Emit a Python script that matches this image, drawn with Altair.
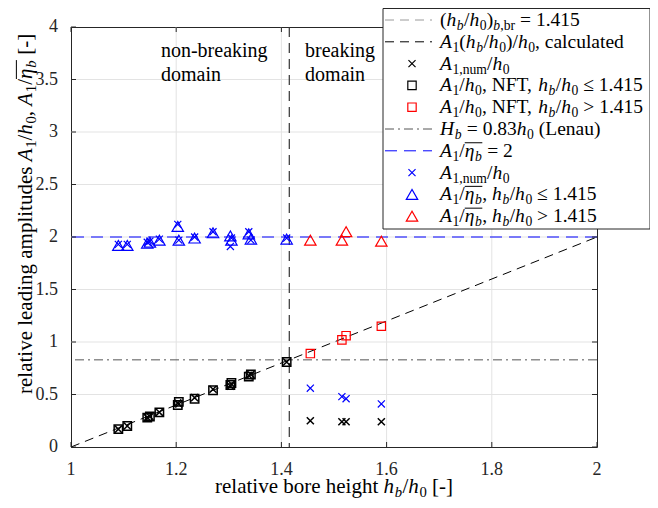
import altair as alt
import pandas as pd

# ---------------- data ----------------
hb_nonbreak = [1.090, 1.107, 1.145, 1.150, 1.168, 1.203, 1.205, 1.235, 1.270, 1.303, 1.305, 1.338, 1.342, 1.410]
a1h0_nft_nonbreak = [0.17, 0.20, 0.28, 0.29, 0.33, 0.40, 0.43, 0.46, 0.54, 0.59, 0.61, 0.67, 0.69, 0.81]
a1h0_num_nonbreak = [0.17, 0.20, 0.28, 0.29, 0.33, 0.42, 0.41, 0.47, 0.55, 0.58, 0.60, 0.68, 0.69, 0.81]
a1eta_nonbreak = [1.92, 1.92, 1.94, 1.95, 1.97, 2.10, 1.97, 1.99, 2.04, 2.01, 1.97, 2.03, 1.98, 1.98]
a1num_blue_nonbreak = [1.93, 1.93, 1.95, 1.96, 1.98, 2.12, 1.97, 2.00, 2.05, 1.91, 1.99, 2.05, 1.97, 1.99]

hb_break = [1.455, 1.515, 1.523, 1.590]
a1h0_nft_break = [0.89, 1.02, 1.06, 1.15]
a1h0_num_break = [0.25, 0.24, 0.24, 0.24]
a1num_blue_break = [0.56, 0.48, 0.46, 0.41]
a1eta_break = [1.97, 1.97, 2.05, 1.96]

hb_br_limit = [1.415]
lenau_level = [0.83]
eta_ratio_level = [2.0]
calc_x = [1.0, 2.0]
calc_y = [0.0, 2.0]

xticks = [1, 1.2, 1.4, 1.6, 1.8, 2]
yticks = [0, 0.5, 1, 1.5, 2, 2.5, 3, 3.5, 4]
xtick_labels = ["1", "1.2", "1.4", "1.6", "1.8", "2"]
ytick_labels = ["0", "0.5", "1", "1.5", "2", "2.5", "3", "3.5", "4"]

annot_x = [1.171, 1.171, 1.445, 1.445]
annot_y = [3.714, 3.486, 3.714, 3.486]
annot_text = ["non-breaking", "domain", "breaking", "domain"]

# ---------------- styling ----------------
FONT = "Liberation Serif"
INK = "#262626"
BLUE = "#0000ff"
RED = "#ff0000"
W, H = 526, 420
CROSS = "M-1,-1L1,1M-1,1L1,-1"

xs = alt.Scale(domain=[1, 2], nice=False, zero=False)
ys = alt.Scale(domain=[0, 4], nice=False, zero=False)
dummy = pd.DataFrame({"d": [0]})


def frame(**cols):
    return pd.DataFrame(cols)


def X(f="x"):
    return alt.X(f"{f}:Q", scale=xs, axis=None)


def Y(f="y"):
    return alt.Y(f"{f}:Q", scale=ys, axis=None)


# Times metrics (Liberation Serif is metric compatible)
ROMAN = {' ': 250, '(': 333, ')': 333, '/': 278, '=': 564, '.': 250, ',': 250, '-': 333,
         '[': 333, ']': 333, '>': 564, '≤': 549,
         'a': 444, 'b': 500, 'c': 444, 'd': 500, 'e': 444, 'f': 333, 'g': 500, 'h': 500,
         'i': 278, 'k': 500, 'l': 278, 'm': 778, 'n': 500, 'o': 500, 'p': 500, 'r': 333,
         's': 389, 't': 278, 'u': 500, 'v': 500,
         'A': 722, 'F': 556, 'H': 722, 'L': 611, 'N': 722, 'T': 611}
ITALIC = {'A': 611, 'H': 722, 'h': 500, 'b': 500, 'η': 500}


def width(txt, italic, size):
    tab = ITALIC if italic else ROMAN
    return sum(tab.get(c, 500) for c in txt) * size / 1000.0


def T(s): return (s, False, False, False)
def I(s): return (s, True, False, False)
def S(s): return (s, False, True, False)
def SI(s): return (s, True, True, False)
def OI(s): return (s, True, False, True)
def OSI(s): return (s, True, True, True)


def seg_adv(txt, ital, sub, size):
    fs = size * 0.7 if sub else size
    w = width(txt, ital, fs)
    if ital:
        w += 0.03 * fs  # italic correction
    return fs, w


def seg_total(segs, size):
    return sum(seg_adv(t, it, sb, size)[1] for t, it, sb, _ in segs)


def layout(segs, x0, y0, size, vertical=False):
    rows, bars = [], []
    pos = 0.0
    ol = None
    for txt, ital, sub, over in segs:
        fs, w = seg_adv(txt, ital, sub, size)
        shift = size * 0.2 if sub else 0.0
        lead = len(txt) - len(txt.lstrip(' '))
        off = width(' ' * lead, ital, fs)
        shown = txt.strip(' ')
        if vertical:
            rows.append(dict(x=x0 + shift, y=y0 - pos - off, text=shown, size=fs, italic=ital))
        else:
            rows.append(dict(x=x0 + pos + off, y=y0 + shift, text=shown, size=fs, italic=ital))
        if over:
            ol = [pos, pos + w] if ol is None else [ol[0], pos + w]
        elif ol is not None:
            bars.append(ol)
            ol = None
        pos += w
    if ol is not None:
        bars.append(ol)
    hbars, vbars = [], []
    for a, b in bars:
        if vertical:
            vbars.append(dict(x=x0 - 0.72 * size, y=y0 - a, y2=y0 - b))
        else:
            hbars.append(dict(x=x0 + a, x2=x0 + b, y=y0 - 0.72 * size))
    return rows, hbars, vbars


# ---------------- layers ----------------
layers = []

# grid
layers.append(alt.Chart(frame(v=xticks[1:-1])).mark_rule(color="#e3e3e3", strokeWidth=1).encode(x=X("v")))
layers.append(alt.Chart(frame(v=yticks[1:-1])).mark_rule(color="#e3e3e3", strokeWidth=1).encode(y=Y("v")))

# calculated line
layers.append(
    alt.Chart(frame(x=calc_x, y=calc_y)).mark_line(color="black", strokeWidth=1, strokeDash=[9, 6]).encode(
        x=X(), y=Y())
)

# reference lines
layers.append(alt.Chart(frame(y=eta_ratio_level)).mark_rule(color=BLUE, strokeWidth=1, strokeDash=[12, 7]).encode(y=Y()))
layers.append(alt.Chart(frame(y=lenau_level)).mark_rule(color="#555555", strokeWidth=1, strokeDash=[9, 4, 2, 4]).encode(y=Y()))
layers.append(alt.Chart(frame(x=hb_br_limit)).mark_rule(color="#333333", strokeWidth=1.2, strokeDash=[10, 6]).encode(x=X()))


def pts(xv, yv, shape, color, size, sw=1.2):
    return alt.Chart(frame(x=xv, y=yv)).mark_point(
        shape=shape, color=color, size=size, strokeWidth=sw, filled=False, opacity=1
    ).encode(x=X(), y=Y())


layers += [
    pts(hb_nonbreak, a1eta_nonbreak, "triangle-up", BLUE, 130),
    pts(hb_break, a1eta_break, "triangle-up", RED, 130),
    pts(hb_nonbreak, a1num_blue_nonbreak, CROSS, BLUE, 50),
    pts(hb_break, a1num_blue_break, CROSS, BLUE, 50),
    pts(hb_nonbreak, a1h0_nft_nonbreak, "square", "black", 70, 1.5),
    pts(hb_break, a1h0_nft_break, "square", RED, 70),
    pts(hb_nonbreak, a1h0_num_nonbreak, CROSS, "black", 50, 1.5),
    pts(hb_break, a1h0_num_break, CROSS, "black", 50, 1.5),
]

# inward ticks
layers += [
    alt.Chart(frame(v=xticks)).mark_rule(color=INK).encode(x=X("v"), y=alt.value(H), y2=alt.value(H - 5)),
    alt.Chart(frame(v=xticks)).mark_rule(color=INK).encode(x=X("v"), y=alt.value(0), y2=alt.value(5)),
    alt.Chart(frame(v=yticks)).mark_rule(color=INK).encode(y=Y("v"), x=alt.value(0), x2=alt.value(5)),
    alt.Chart(frame(v=yticks)).mark_rule(color=INK).encode(y=Y("v"), x=alt.value(W), x2=alt.value(W - 5)),
]

# tick labels
layers.append(
    alt.Chart(frame(v=xticks, t=xtick_labels)).mark_text(
        font=FONT, fontSize=18, align="center", baseline="alphabetic", color=INK
    ).encode(x=X("v"), y=alt.value(H + 28), text="t:N")
)
layers.append(
    alt.Chart(frame(v=yticks, t=ytick_labels)).mark_text(
        font=FONT, fontSize=18, align="right", baseline="middle", color=INK
    ).encode(y=Y("v"), x=alt.value(-13), text="t:N")
)

# domain annotations
layers.append(
    alt.Chart(frame(x=annot_x, y=annot_y, t=annot_text)).mark_text(
        font=FONT, fontSize=20, align="left", baseline="alphabetic", color="black"
    ).encode(x=X(), y=Y(), text="t:N")
)

# ---------------- legend ----------------
LX0, LX1, LY0, LY1 = 312, 579, -18.5, 202
layers.append(
    alt.Chart(dummy).mark_rect(fill="white", stroke=INK, strokeWidth=1).encode(
        x=alt.value(LX0), x2=alt.value(LX1), y=alt.value(LY0), y2=alt.value(LY1))
)

legend_labels = [
    [T("("), I("h"), SI("b"), T("/"), I("h"), S("0"), T(")"), SI("b"), S(",br"), T(" = 1.415")],
    [I("A"), S("1"), T("("), I("h"), SI("b"), T("/"), I("h"), S("0"), T(")/"), I("h"), S("0"), T(", calculated")],
    [I("A"), S("1,num"), T("/"), I("h"), S("0")],
    [I("A"), S("1"), T("/"), I("h"), S("0"), T(", NFT, "), I("h"), SI("b"), T("/"), I("h"), S("0"), T(" ≤ 1.415")],
    [I("A"), S("1"), T("/"), I("h"), S("0"), T(", NFT, "), I("h"), SI("b"), T("/"), I("h"), S("0"), T(" > 1.415")],
    [I("H"), SI("b"), T(" = 0.83"), I("h"), S("0"), T(" (Lenau)")],
    [I("A"), S("1"), T("/"), OI("η"), OSI("b"), T(" = 2")],
    [I("A"), S("1,num"), T("/"), I("h"), S("0")],
    [I("A"), S("1"), T("/"), OI("η"), OSI("b"), T(", "), I("h"), SI("b"), T("/"), I("h"), S("0"), T(" ≤ 1.415")],
    [I("A"), S("1"), T("/"), OI("η"), OSI("b"), T(", "), I("h"), SI("b"), T("/"), I("h"), S("0"), T(" > 1.415")],
]
legend_samples = [
    ("line", "#9a9a9a", [9, 6]),
    ("line", "black", [9, 6]),
    ("sym", "black", CROSS),
    ("sym", "black", "square"),
    ("sym", RED, "square"),
    ("line", "#555555", [9, 4, 2, 4]),
    ("line", BLUE, [12, 7]),
    ("sym", BLUE, CROSS),
    ("sym", BLUE, "triangle-up"),
    ("sym", RED, "triangle-up"),
]

text_rows_h, text_rows_v, hbars, vbars = [], [], [], []
for i, (segs, (kind, col, sty)) in enumerate(zip(legend_labels, legend_samples)):
    base = -1.0 + 21.8 * i
    yc = base - 6
    r, hb_, vb_ = layout(segs, 369, base, 19.5)
    text_rows_h += r
    hbars += hb_
    if kind == "line":
        layers.append(alt.Chart(dummy).mark_rule(color=col, strokeWidth=1, strokeDash=sty).encode(
            x=alt.value(314), x2=alt.value(361), y=alt.value(yc)))
    else:
        sz = {"square": 70, "triangle-up": 130}.get(sty, 50)
        layers.append(alt.Chart(dummy).mark_point(shape=sty, color=col, size=sz, strokeWidth=1.2,
                                                  filled=False, opacity=1).encode(
            x=alt.value(341), y=alt.value(yc)))

# axis titles
xt_segs = [T("relative bore height "), I("h"), SI("b"), T("/"), I("h"), S("0"), T(" [-]")]
tw = seg_total(xt_segs, 21)
r, hb_, vb_ = layout(xt_segs, W / 2 - tw / 2, 466, 21)
text_rows_h += r

yt_segs = [T("relative leading amplitudes "), I("A"), S("1"), T("/"), I("h"), S("0"), T(", "),
           I("A"), S("1"), T("/"), OI("η"), OSI("b"), T(" [-]")]
r, hb_, vb_ = layout(yt_segs, -39.5, 367, 21, vertical=True)
text_rows_v += r
vbars += vb_


def text_layer(rows, italic, angle):
    sel = [d for d in rows if d["italic"] == italic]
    return alt.Chart(pd.DataFrame(sel)).mark_text(
        font=FONT, align="left", baseline="alphabetic", color="black",
        fontStyle="italic" if italic else "normal", angle=angle
    ).encode(
        x=alt.X("x:Q", scale=None, axis=None),
        y=alt.Y("y:Q", scale=None, axis=None),
        text="text:N",
        size=alt.Size("size:Q", scale=None, legend=None),
    )


layers += [
    text_layer(text_rows_h, False, 0),
    text_layer(text_rows_h, True, 0),
    text_layer(text_rows_v, False, 270),
    text_layer(text_rows_v, True, 270),
]
if hbars:
    layers.append(alt.Chart(pd.DataFrame(hbars)).mark_rule(color="black", strokeWidth=1).encode(
        x=alt.X("x:Q", scale=None, axis=None), x2="x2:Q", y=alt.Y("y:Q", scale=None, axis=None)))
if vbars:
    layers.append(alt.Chart(pd.DataFrame(vbars)).mark_rule(color="black", strokeWidth=1).encode(
        x=alt.X("x:Q", scale=None, axis=None), y=alt.Y("y:Q", scale=None, axis=None), y2="y2:Q"))

chart = alt.layer(*layers).properties(
    width=W, height=H,
    autosize=alt.AutoSizeParams(type="none"),
    padding={"left": 63, "top": 19, "right": 53, "bottom": 53},
).configure_view(stroke=INK, strokeWidth=1)

chart.save("out.html", embed_options={"renderer": "svg", "actions": False})
